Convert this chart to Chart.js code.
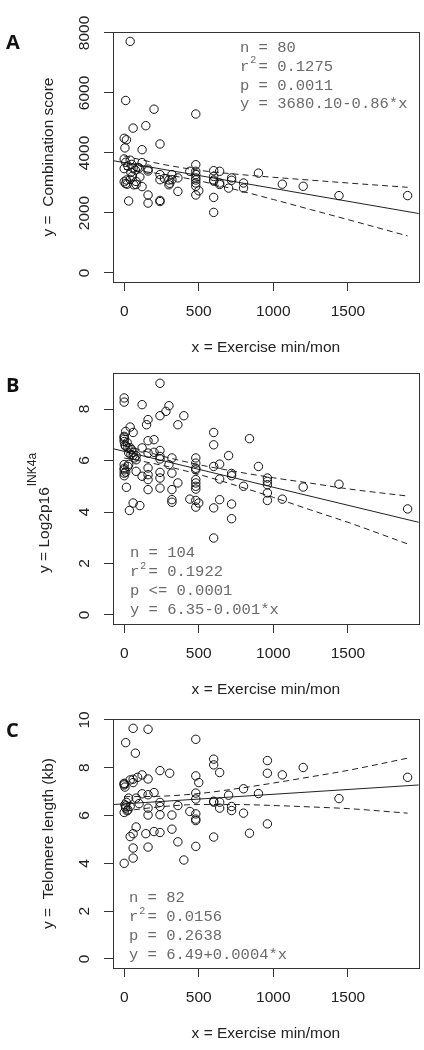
<!DOCTYPE html>
<html>
<head>
<meta charset="utf-8">
<script src="https://cdn.jsdelivr.net/npm/chart.js@4"></script>
<style>
  html, body { margin: 0; padding: 0; background: #fff; }
  #wrap { position: relative; width: 424px; height: 1050px; }
  canvas { position: absolute; left: 0; }
</style>
</head>
<body>
<div id="wrap">
  <canvas id="chartA" width="424" height="370" style="top:0"></canvas>
  <canvas id="chartB" width="424" height="370" style="top:350px"></canvas>
  <canvas id="chartC" width="424" height="350" style="top:700px"></canvas>
</div>
<script>
// tick labels
const X_TICKS = [0, 500, 1000, 1500];
const A_Y_TICKS = [0, 2000, 4000, 6000, 8000];
const B_Y_TICKS = [0, 2, 4, 6, 8];
const C_Y_TICKS = [0, 2, 4, 6, 8, 10];

// panel A - combination score
const A_EXERCISE = [40, 10, 200, 480, 60, 145, 0, 15, 5, 120, 240, 480, 0, 40, 10, 0, 25, 50, 60, 75,
  90, 0, 10, 20, 40, 55, 80, 80, 105, 120, 30, 120, 160, 160, 160, 160, 240, 240, 240, 240,
  300, 305, 320, 320, 360, 360, 440, 480, 480, 480, 480, 480, 480, 500, 600, 600, 600, 600, 600, 640,
  640, 700, 720, 720, 800, 800, 900, 1060, 1200, 1440, 1900, 270, 600, 640, 15, 45, 65, 100, 300, 480];
const A_SCORE = [7720, 5750, 5460, 5300, 4830, 4910, 4490, 4440, 4170, 4110, 4300, 3610, 3800, 3760, 3690, 3480, 3560, 3620, 3500, 3430,
  3520, 3040, 2980, 2960, 3120, 3230, 2950, 3050, 3200, 2880, 2400, 3680, 3460, 3400, 2600, 2330, 2420, 2380, 3280, 3110,
  2940, 2990, 3280, 3110, 3170, 2720, 3390, 3390, 3280, 3170, 3000, 2890, 2600, 2740, 3410, 3220, 3060, 2520, 2020, 3390,
  3000, 2830, 3170, 3090, 3000, 2830, 3330, 2960, 2890, 2580, 2580, 3150, 3100, 2950, 3100, 3350, 2940, 3500, 3100, 3100];

// panel B - log2 p16INK4a
const B_EXERCISE = [240, 0, 0, 120, 300, 280, 240, 400, 160, 150, 360, 40, 10, 60, 0, 0, 0, 10, 25, 160,
  200, 600, 600, 840, 120, 160, 200, 240, 240, 240, 50, 60, 80, 70, 45, 80, 320, 480, 480, 300,
  640, 600, 900, 700, 0, 0, 0, 0, 25, 80, 120, 160, 160, 160, 160, 240, 240, 240, 320, 360,
  320, 480, 480, 480, 480, 480, 640, 720, 800, 960, 960, 960, 960, 960, 1060, 15, 60, 105, 35, 320,
  320, 440, 480, 500, 480, 600, 640, 720, 720, 600, 1440, 1200, 1900, 0, 5, 20, 30, 40, 60, 0,
  10, 30, 720, 480];
const B_LOG2P16 = [9.0, 8.43, 8.27, 8.17, 8.13, 7.91, 7.74, 7.74, 7.59, 7.39, 7.39, 7.30, 7.13, 7.09, 6.94, 6.83, 6.74, 6.55, 6.49, 6.77,
  6.81, 7.09, 6.61, 6.85, 6.49, 6.29, 6.32, 6.39, 6.16, 6.06, 6.42, 6.32, 6.19, 6.10, 6.23, 6.03, 6.10, 6.10, 5.90, 5.84,
  5.86, 5.77, 5.77, 6.19, 5.84, 5.64, 5.51, 5.41, 5.77, 5.58, 5.39, 5.71, 5.45, 5.26, 4.87, 5.54, 5.32, 4.93, 5.51, 5.13,
  4.87, 5.64, 5.26, 5.13, 5.00, 4.89, 5.28, 5.41, 5.00, 5.32, 5.19, 5.06, 4.74, 4.45, 4.50, 4.96, 4.35, 4.25, 4.06, 4.48,
  4.38, 4.50, 4.45, 4.35, 4.19, 4.16, 4.48, 4.31, 3.74, 2.99, 5.08, 4.97, 4.12, 6.90, 6.60, 6.70, 6.30, 6.50, 6.20, 5.70,
  5.55, 5.85, 5.50, 5.70];

// panel C - telomere length
const C_EXERCISE = [60, 160, 480, 10, 75, 600, 600, 960, 1200, 240, 305, 640, 960, 1060, 1900, 480, 120, 90, 60, 160,
  40, 0, 0, 5, 60, 500, 800, 200, 120, 160, 480, 480, 700, 900, 1440, 30, 80, 240, 240, 360,
  600, 640, 640, 720, 720, 5, 10, 25, 0, 15, 40, 160, 160, 240, 320, 440, 480, 480, 480, 800,
  960, 80, 60, 40, 145, 200, 240, 320, 600, 840, 360, 160, 60, 480, 400, 60, 0, 0, 20, 10,
  600, 100];
const C_TELOMERE = [9.65, 9.61, 9.19, 9.05, 8.61, 8.36, 8.12, 8.30, 8.01, 7.88, 7.77, 7.80, 7.77, 7.70, 7.60, 7.66, 7.70, 7.60, 7.52, 7.53,
  7.49, 7.35, 7.28, 7.19, 7.38, 7.38, 7.12, 6.96, 6.91, 6.87, 6.94, 6.69, 6.85, 6.92, 6.71, 6.73, 6.73, 6.55, 6.38, 6.42,
  6.56, 6.56, 6.31, 6.38, 6.21, 6.45, 6.31, 6.24, 6.13, 6.55, 6.38, 6.31, 6.02, 6.03, 6.02, 6.17, 6.07, 5.85, 5.79, 6.10,
  5.65, 5.52, 5.24, 5.12, 5.24, 5.33, 5.29, 5.43, 5.10, 5.26, 4.90, 4.68, 4.64, 4.71, 4.14, 4.22, 4.00, 7.32, 6.20, 6.40,
  6.60, 6.50];

// fitted lines (edge to edge) and dashed confidence bands
const FIT_X = [-75, 1975];
const A_FIT = [3745, 1982];
const B_FIT = [6.46, 3.60];
const C_FIT = [6.46, 7.28];
const BAND_X = [0, 250, 500, 750, 1000, 1250, 1500, 1900];
const A_UPPER = [3900, 3630, 3425, 3295, 3190, 3095, 3000, 2856];
const A_LOWER = [3460, 3300, 3075, 2775, 2450, 2115, 1780, 1236];
const B_UPPER = [6.60, 6.18, 5.84, 5.57, 5.33, 5.12, 4.90, 4.62];
const B_LOWER = [6.10, 5.82, 5.46, 5.03, 4.57, 4.08, 3.60, 2.76];
const C_UPPER = [6.79, 6.81, 6.92, 7.12, 7.36, 7.62, 7.89, 8.40];
const C_LOWER = [6.19, 6.37, 6.46, 6.46, 6.42, 6.36, 6.29, 6.10];

const A_STATS = ['n = 80', 'r2= 0.1275', 'p = 0.0011', 'y = 3680.10-0.86*x'];
const B_STATS = ['n = 104', 'r2= 0.1922', 'p <= 0.0001', 'y = 6.35-0.001*x'];
const C_STATS = ['n = 82', 'r2= 0.0156', 'p = 0.2638', 'y = 6.49+0.0004*x'];

const SANS = '"Liberation Sans", Arial, sans-serif';
const MONO = '"Liberation Mono", "Courier New", monospace';
const INK = '#222';

const pts = (xs, ys) => xs.map((x, i) => ({ x: x, y: ys[i] }));

// draws the R-style box, tick labels, titles and text
const rStyle = {
  id: 'rStyle',
  afterDraw(chart, args, o) {
    const ctx = chart.ctx;
    const a = chart.chartArea;
    const xs = chart.scales.x, ys = chart.scales.y;
    ctx.save();
    ctx.strokeStyle = '#333';
    ctx.lineWidth = 1;
    ctx.strokeRect(Math.round(a.left) + 0.5, Math.round(a.top) + 0.5,
      Math.round(a.right - a.left), Math.round(a.bottom - a.top));

    ctx.fillStyle = INK;
    ctx.font = '15.5px ' + SANS;
    ctx.textAlign = 'center';
    ctx.textBaseline = 'middle';
    X_TICKS.forEach(v => ctx.fillText(String(v), xs.getPixelForValue(v), a.bottom + 30));
    o.yTicks.forEach(v => {
      ctx.save();
      ctx.translate(a.left - 28, ys.getPixelForValue(v));
      ctx.rotate(-Math.PI / 2);
      ctx.fillText(String(v), 0, 0);
      ctx.restore();
    });
    ctx.fillText('x = Exercise min/mon', (a.left + a.right) / 2, a.bottom + 66);

    // y title
    ctx.save();
    if (o.sup) {
      ctx.translate(45, o.titleStart);
      ctx.rotate(-Math.PI / 2);
      ctx.textAlign = 'left';
      ctx.fillText(o.yTitle, 0, 0);
      const w = ctx.measureText(o.yTitle).width;
      ctx.font = '12px ' + SANS;
      ctx.fillText(o.sup, w + 1, -12);
    } else {
      ctx.translate(49, (a.top + a.bottom) / 2);
      ctx.rotate(-Math.PI / 2);
      ctx.fillText(o.yTitle, 0, 0);
    }
    ctx.restore();

    // panel letter
    ctx.font = 'bold 20px "Open Sans", ' + SANS;
    ctx.textAlign = 'left';
    ctx.textBaseline = 'alphabetic';
    ctx.fillStyle = '#111';
    ctx.fillText(o.letter, 6, o.letterY);

    // stats text
    ctx.fillStyle = '#6a6a6a';
    ctx.textBaseline = 'middle';
    const cw = 9.3;
    o.stats.forEach((s, i) => {
      const x = a.left + o.statX;
      const y = o.statY + i * 18.7;
      ctx.font = '15.5px ' + MONO;
      if (s.startsWith('r2')) {
        ctx.fillText('r', x, y);
        ctx.fillText(s.slice(2), x + 2 * cw, y);
        ctx.font = '10px ' + MONO;
        ctx.fillText('2', x + cw + 1, y - 6);
      } else {
        ctx.fillText(s, x, y);
      }
    });
    ctx.restore();
  }
};

function makePanel(id, cfg) {
  const canvas = document.getElementById(id);
  const lineStyle = { type: 'scatter', showLine: true, pointRadius: 0, borderColor: INK,
    borderWidth: 1, fill: false, cubicInterpolationMode: 'monotone' };
  return new Chart(canvas, {
    type: 'scatter',
    data: {
      datasets: [
        { data: pts(cfg.xs, cfg.ys), pointStyle: 'circle', pointRadius: 4.2, pointHoverRadius: 4.2,
          borderColor: '#111', borderWidth: 1, backgroundColor: 'rgba(0,0,0,0)' },
        Object.assign({ data: pts(FIT_X, cfg.fit) }, lineStyle),
        Object.assign({ data: pts(BAND_X, cfg.upper), borderDash: [6, 4] }, lineStyle),
        Object.assign({ data: pts(BAND_X, cfg.lower), borderDash: [6, 4] }, lineStyle)
      ]
    },
    options: {
      responsive: false,
      animation: false,
      devicePixelRatio: 1,
      layout: { padding: { top: cfg.top, right: cfg.right, left: 0, bottom: 0 } },
      plugins: {
        legend: { display: false },
        tooltip: { enabled: false },
        rStyle: cfg.style
      },
      scales: {
        x: {
          type: 'linear', min: -75, max: 1975,
          afterBuildTicks: s => { s.ticks = X_TICKS.map(v => ({ value: v })); },
          afterFit: s => { s.height = canvas.height - cfg.bottom; },
          ticks: { display: false },
          grid: { display: true, drawOnChartArea: false, drawTicks: true, tickLength: 9, color: '#333' },
          border: { display: true, color: '#333' }
        },
        y: {
          type: 'linear', min: cfg.ymin, max: cfg.ymax,
          afterBuildTicks: s => { s.ticks = cfg.style.yTicks.map(v => ({ value: v })); },
          afterFit: s => { s.width = 113; },
          ticks: { display: false },
          grid: { display: true, drawOnChartArea: false, drawTicks: true, tickLength: 9, color: '#333' },
          border: { display: true, color: '#333' }
        }
      }
    },
    plugins: [rStyle]
  });
}

makePanel('chartA', {
  xs: A_EXERCISE, ys: A_SCORE, fit: A_FIT, upper: A_UPPER, lower: A_LOWER,
  top: 32, bottom: 282, right: 4, ymin: -300, ymax: 8033,
  style: { yTicks: A_Y_TICKS, yTitle: 'y =  Combination score', letter: 'A', letterY: 49,
    stats: A_STATS, statX: 127, statY: 48 }
});
makePanel('chartB', {
  xs: B_EXERCISE, ys: B_LOG2P16, fit: B_FIT, upper: B_UPPER, lower: B_LOWER,
  top: 23, bottom: 274, right: 5, ymin: -0.35, ymax: 9.4,
  style: { yTicks: B_Y_TICKS, yTitle: 'y = Log2p16', sup: 'INK4a', titleStart: 223, letter: 'B', letterY: 42,
    stats: B_STATS, statX: 17, statY: 203.3 }
});
makePanel('chartC', {
  xs: C_EXERCISE, ys: C_TELOMERE, fit: C_FIT, upper: C_UPPER, lower: C_LOWER,
  top: 19, bottom: 268, right: 4, ymin: -0.38, ymax: 10.04,
  style: { yTicks: C_Y_TICKS, yTitle: 'y =  Telomere length (kb)', letter: 'C', letterY: 37,
    stats: C_STATS, statX: 16, statY: 198.3 }
});
</script>
</body>
</html>
